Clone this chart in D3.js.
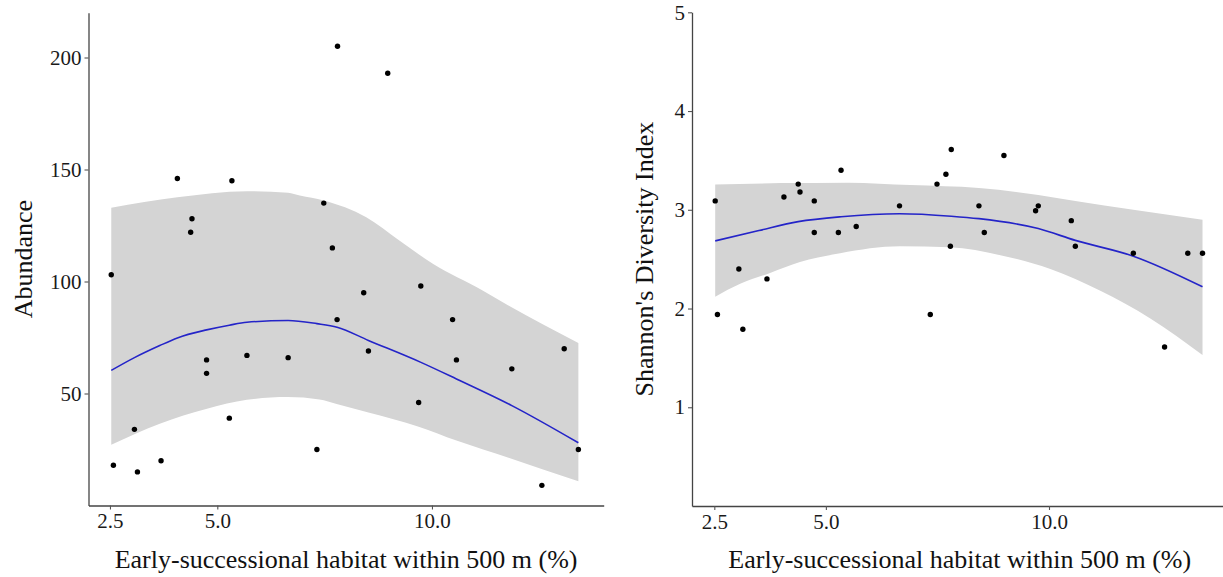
<!DOCTYPE html>
<html>
<head>
<meta charset="utf-8">
<script src="https://cdn.jsdelivr.net/npm/d3@7"></script>
<style>
  html, body { margin: 0; padding: 0; background: #fff; }
  svg { display: block; }
  text { font-family: "Liberation Serif", "Times New Roman", serif; }
</style>
</head>
<body>
<svg id="chart" width="1223" height="577"></svg>
<script>
// ---------- Data ----------
// Left panel: Abundance
const abundX = [2.53, 4.07, 5.34, 4.41, 4.38, 7.80, 8.97, 7.48, 7.68, 9.74,
                4.75, 4.75, 5.69, 6.65, 5.28, 3.07, 2.58, 3.14, 3.69, 7.32,
                8.41, 7.79, 10.48, 8.52, 10.57, 13.08, 11.86, 9.69, 13.41, 12.56];
const abundY = [103, 146, 145, 128, 122, 205, 193, 135, 115, 98,
                65, 59, 67, 66, 39, 34, 18, 15, 20, 25,
                95, 83, 83, 69, 65, 70, 61, 46, 25, 9];

const abundFitX = [2.53, 3.07, 3.66, 4.07, 4.75, 5.28, 5.69, 6.65, 7.32, 7.79, 8.52, 9.73, 10.57, 11.86, 13.41];
const abundFitY = [60.3, 66, 71.4, 74.8, 78.4, 80.5, 81.8, 82.6, 81.2, 79.6, 73.7, 64, 56.5, 44.6, 28];

const abundUpX = [2.53, 4.07, 5.69, 6.65, 6.92, 7.48, 8.47, 9.24, 10.02, 11.18, 11.72, 13.41];
const abundUpY = [132.9, 137.6, 140.3, 139.6, 138.4, 136.2, 128.7, 118.3, 107.9, 96, 90, 72.6];
const abundLoX = [2.53, 3.66, 4.76, 5.69, 6.64, 7.38, 7.78, 8.52, 9.69, 10.57, 11.87, 13.41];
const abundLoY = [27.1, 36.5, 43.2, 47.2, 48.4, 47.3, 45.3, 41.5, 35.2, 29.0, 20.8, 10.8];

// Right panel: Shannon's Diversity Index
const shanX = [2.52, 3.05, 3.68, 4.06, 4.38, 4.42, 4.74, 4.74, 5.34, 5.28,
               5.68, 6.65, 7.81, 8.99, 7.69, 7.49, 8.43, 9.76, 9.70, 10.50,
               8.55, 7.79, 10.59, 11.89, 13.11, 13.44, 2.57, 3.14, 7.34, 12.59];
const shanY = [3.09, 2.40, 2.30, 3.13, 3.26, 3.18, 3.09, 2.77, 3.40, 2.77,
               2.83, 3.04, 3.61, 3.55, 3.36, 3.26, 3.04, 3.04, 2.99, 2.89,
               2.77, 2.63, 2.63, 2.56, 2.56, 2.56, 1.94, 1.79, 1.94, 1.61];

const shanFitX = [2.52, 3.5, 4.38, 5.34, 6.65, 7.81, 8.43, 9.76, 10.59, 11.89, 13.44];
const shanFitY = [2.685, 2.79, 2.88, 2.93, 2.96, 2.935, 2.91, 2.81, 2.69, 2.53, 2.22];

const shanUpX = [2.52, 4.0, 5.5, 6.89, 8.43, 9.76, 10.59, 11.89, 13.44];
const shanUpY = [3.256, 3.27, 3.275, 3.25, 3.22, 3.15, 3.09, 3.00, 2.90];
const shanLoX = [2.52, 3.08, 3.75, 4.42, 5.32, 6.66, 7.78, 8.91, 10.03, 11.15, 12.27, 13.44];
const shanLoY = [2.12, 2.25, 2.36, 2.47, 2.56, 2.63, 2.62, 2.54, 2.40, 2.18, 1.90, 1.53];

const xTicks = [2.5, 5.0, 10.0];
const abundTicks = [50, 100, 150, 200];
const shanTicks = [1, 2, 3, 4, 5];

const xTitle = "Early-successional habitat within 500 m (%)";

// ---------- Drawing ----------
const svg = d3.select("#chart");

function panel(opts) {
  const g = svg.append("g");
  const x = d3.scaleLinear().domain([2, 14]).range(opts.xRange);
  const y = d3.scaleLinear().domain(opts.yDomain).range(opts.yRange);

  const clipId = "clip" + opts.id;
  svg.append("clipPath").attr("id", clipId)
    .append("rect")
    .attr("x", opts.xRange[0]).attr("y", opts.yRange[1])
    .attr("width", opts.xRange[1] - opts.xRange[0])
    .attr("height", opts.yRange[0] - opts.yRange[1]);

  const plot = g.append("g").attr("clip-path", `url(#${clipId})`);

  const lineGen = d3.line().x(d => x(d[0])).y(d => y(d[1])).curve(d3.curveMonotoneX);

  // confidence band
  const up = opts.upX.map((v, i) => [v, opts.upY[i]]);
  const lo = opts.loX.map((v, i) => [v, opts.loY[i]]).reverse();
  const upPath = lineGen(up);
  const loPath = lineGen(lo);
  plot.append("path")
    .attr("d", upPath + "L" + loPath.slice(1) + "Z")
    .attr("fill", "#d4d4d4")
    .attr("stroke", "none");

  // fit line
  plot.append("path")
    .datum(opts.fitX.map((v, i) => [v, opts.fitY[i]]))
    .attr("d", lineGen)
    .attr("fill", "none")
    .attr("stroke", "#2424c8")
    .attr("stroke-width", 1.6);

  // points
  plot.selectAll("circle.pt")
    .data(opts.px.map((v, i) => [v, opts.py[i]]))
    .join("circle")
    .attr("class", "pt")
    .attr("cx", d => x(d[0]))
    .attr("cy", d => y(d[1]))
    .attr("r", 2.7)
    .attr("fill", "#000");

  // axes
  const xAxis = d3.axisBottom(x).tickValues(xTicks).tickFormat(d3.format(".1f"))
    .tickSize(4).tickSizeOuter(0).tickPadding(4);
  const gx = g.append("g").attr("transform", `translate(0,${opts.yRange[0]})`).call(xAxis);
  const yAxis = d3.axisLeft(y).tickValues(opts.yTicks).tickFormat(d3.format("d"))
    .tickSize(4).tickSizeOuter(0).tickPadding(3);
  const gy = g.append("g").attr("transform", `translate(${opts.xRange[0]},0)`).call(yAxis);

  [gx, gy].forEach(ax => {
    ax.select(".domain").attr("stroke", "#444").attr("stroke-width", 1.3);
    ax.selectAll(".tick line").attr("stroke", "#555").attr("stroke-width", 1.1);
    ax.selectAll(".tick text")
      .attr("fill", "#1a1a1a")
      .style("font-size", "21px")
      .style("font-family", '"Liberation Serif", "Times New Roman", serif');
  });

  // titles
  const cx = (opts.xRange[0] + opts.xRange[1]) / 2;
  g.append("text")
    .attr("x", cx).attr("y", 568)
    .attr("text-anchor", "middle")
    .attr("fill", "#111")
    .style("font-size", "26px")
    .text(xTitle);

  const cy = (opts.yRange[0] + opts.yRange[1]) / 2;
  g.append("text")
    .attr("transform", `translate(${opts.yTitleX},${cy}) rotate(-90)`)
    .attr("text-anchor", "middle")
    .attr("fill", "#111")
    .style("font-size", "26px")
    .text(opts.yTitle);
}

panel({
  id: "L",
  xRange: [88.5, 603.7],
  yDomain: [0, 220],
  yRange: [505.5, 12.7],
  yTicks: abundTicks,
  px: abundX, py: abundY,
  fitX: abundFitX, fitY: abundFitY,
  upX: abundUpX, upY: abundUpY, loX: abundLoX, loY: abundLoY,
  yTitle: "Abundance",
  yTitleX: 32
});

panel({
  id: "R",
  xRange: [692, 1227.5],
  yDomain: [0, 5],
  yRange: [506, 12.3],
  yTicks: shanTicks,
  px: shanX, py: shanY,
  fitX: shanFitX, fitY: shanFitY,
  upX: shanUpX, upY: shanUpY, loX: shanLoX, loY: shanLoY,
  yTitle: "Shannon's Diversity Index",
  yTitleX: 653
});
</script>
</body>
</html>
